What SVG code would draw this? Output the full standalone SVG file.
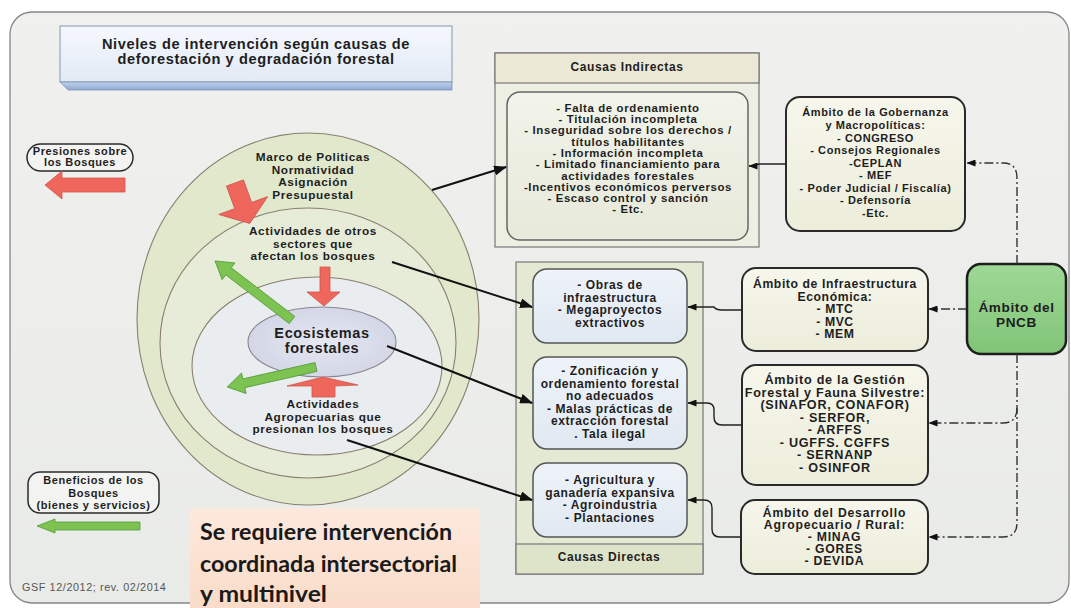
<svg xmlns="http://www.w3.org/2000/svg" width="1071" height="608" viewBox="0 0 1071 608">
<defs>
<style>
.f{font-family:"Liberation Sans",Arial,sans-serif;font-weight:bold;fill:#1e1e1e;text-anchor:middle}
.ttl{font-size:14.6px;letter-spacing:.6px}
.lg{font-size:11px;letter-spacing:.6px}
.hd{font-size:12px;letter-spacing:.6px}
.ci{font-size:11.4px;letter-spacing:.65px}
.el{font-size:11.8px;letter-spacing:.6px}
.eco{font-size:14.5px;letter-spacing:.6px}
.gob{font-size:11px;letter-spacing:.6px}
.inf{font-size:12.2px;letter-spacing:.6px}
.ges{font-size:12.6px;letter-spacing:.75px}
.des{font-size:12.2px;letter-spacing:.8px}
.cd{font-size:12px;letter-spacing:.6px}
.pn{font-size:13.6px;letter-spacing:.6px}
.big{font-family:Lato,"Open Sans","Liberation Sans",sans-serif;font-weight:bold;font-size:23.5px;fill:#1a1a1a}
.gsf{font-family:"Liberation Sans",Arial,sans-serif;font-size:10.8px;letter-spacing:.6px;fill:#555}
.amb{fill:url(#gAmb);stroke:#2a2a2a;stroke-width:2}
.dir{fill:url(#gDir);stroke:#555;stroke-width:1.5}
.ring{stroke:#8a7f70;stroke-width:1.1}
.red{fill:#ef665d;stroke:#cf554d;stroke-width:.8}
.grn{fill:#7cc352;stroke:#54993a;stroke-width:.8}
.con{fill:none;stroke:#111;stroke-width:2}
.thin{fill:none;stroke:#222;stroke-width:1.4}
.dd{fill:none;stroke:#333;stroke-width:1.4;stroke-dasharray:9 3 2 3}
</style>
<linearGradient id="gBg" x1="0" y1="0" x2="0" y2="1"><stop offset="0" stop-color="#f0f1ef"/><stop offset="1" stop-color="#e9ebe8"/></linearGradient>
<linearGradient id="gTitle" x1="0" y1="0" x2="0" y2="1"><stop offset="0" stop-color="#f5f8fd"/><stop offset="1" stop-color="#e2eaf5"/></linearGradient>
<linearGradient id="gBevel" x1="0" y1="0" x2="0" y2="1"><stop offset="0" stop-color="#bfd0ea"/><stop offset="1" stop-color="#8faad6"/></linearGradient>
<linearGradient id="gAmb" x1="0" y1="0" x2="0" y2="1"><stop offset="0" stop-color="#f6f6ec"/><stop offset="1" stop-color="#ecedda"/></linearGradient>
<linearGradient id="gDir" x1="0" y1="0" x2="0" y2="1"><stop offset="0" stop-color="#eef3f9"/><stop offset="1" stop-color="#e0e8f1"/></linearGradient>
<linearGradient id="gInd" x1="0" y1="0" x2="0" y2="1"><stop offset="0" stop-color="#f2f3ea"/><stop offset="1" stop-color="#e7e9da"/></linearGradient>
<linearGradient id="gPeach" x1="0" y1="0" x2="0" y2="1"><stop offset="0" stop-color="#fde9dd"/><stop offset="1" stop-color="#f9dcc9"/></linearGradient>
<linearGradient id="gPncb" x1="0" y1="0" x2="0" y2="1"><stop offset="0" stop-color="#9fd896"/><stop offset="1" stop-color="#80c477"/></linearGradient>
<radialGradient id="gEco" cx=".5" cy=".5" r=".6"><stop offset="0" stop-color="#e6e8f1"/><stop offset="1" stop-color="#cfd3e4"/></radialGradient>
<marker id="ah" markerUnits="userSpaceOnUse" markerWidth="13" markerHeight="10" viewBox="0 0 13 10" refX="12" refY="5" orient="auto"><path d="M0,0 L13,5 L0,10 z" fill="#111"/></marker>
<marker id="ahs" markerUnits="userSpaceOnUse" markerWidth="9" markerHeight="7" viewBox="0 0 9 7" refX="8.5" refY="3.5" orient="auto"><path d="M0,0 L9,3.5 L0,7 z" fill="#111"/></marker>
</defs>

<rect x="10" y="12" width="1059" height="591" rx="22" fill="url(#gBg)" stroke="#858585" stroke-width="1.3"/>

<g id="title">
<rect x="60" y="26" width="392" height="56" fill="url(#gTitle)" stroke="#8796ad" stroke-width="1"/>
<polygon points="60,82 452,82 452,90 68,90" fill="url(#gBevel)" stroke="#7f93b3" stroke-width=".8"/>
<text class="f ttl" x="256" y="49">Niveles de intervención según causas de</text>
<text class="f ttl" x="256" y="64">deforestación y degradación forestal</text>
</g>

<g id="legend-presiones">
<rect x="27" y="144" width="106" height="27" rx="13.5" fill="#f3f4f1" stroke="#2a2a2a" stroke-width="1.5"/>
<text class="f lg" x="80" y="155">Presiones sobre</text>
<text class="f lg" x="80" y="166">los Bosques</text>
<polygon class="red" points="125,178 62,178 62,171 45,185 62,199 62,192 125,192"/>
</g>

<g id="legend-beneficios">
<rect x="28" y="472" width="131" height="41" rx="12" fill="#f3f4f1" stroke="#2a2a2a" stroke-width="1.5"/>
<text class="f lg" x="93.5" y="484">Beneficios de los</text>
<text class="f lg" x="93.5" y="497">Bosques</text>
<text class="f lg" x="93.5" y="509">(bienes y servicios)</text>
<polygon class="grn" points="140,522 55,522 55,519 37,526 55,533 55,530 140,530"/>
</g>

<g id="ring-politicas">
<ellipse class="ring" cx="308" cy="319" rx="171" ry="186" fill="#e1e8cc"/>
<text class="f el" x="313" y="161">Marco de Politicas</text>
<text class="f el" x="313" y="173.5">Normatividad</text>
<text class="f el" x="313" y="186">Asignación</text>
<text class="f el" x="313" y="198.5">Presupuestal</text>
</g>
<g id="ring-otros-sectores">
<ellipse class="ring" cx="308" cy="343" rx="148" ry="135" fill="#e6ecd7"/>
<text class="f el" x="313" y="235">Actividades de otros</text>
<text class="f el" x="313" y="247.5">sectores que</text>
<text class="f el" x="313" y="260">afectan los bosques</text>
</g>
<g id="ring-agropecuarias">
<ellipse class="ring" cx="317" cy="366" rx="125" ry="89" fill="#e9edef"/>
<text class="f el" x="323" y="408">Actividades</text>
<text class="f el" x="323" y="420.5">Agropecuarias que</text>
<text class="f el" x="323" y="433">presionan los bosques</text>
</g>
<g id="ecosistemas">
<ellipse cx="322" cy="342" rx="74" ry="35" fill="url(#gEco)" stroke="#8a8690" stroke-width="1.1"/>
<text class="f eco" x="322" y="338">Ecosistemas</text>
<text class="f eco" x="322" y="353">forestales</text>
</g>

<g id="flow-arrows">
<polygon class="red" transform="translate(235,183) rotate(-20)" points="-9,0 9,0 9,24 26,24 0,43 -26,24 -9,24"/>
<polygon class="red" points="320,267 330,267 330,292 340,292 324,306 307,292 320,292"/>
<polygon class="red" points="312,397 335,397 335,386 358,385 323,377 287,386 312,386"/>
<polygon class="grn" transform="translate(292,320) rotate(217.5)" points="0,-4.5 80,-4.5 80,-10.5 97,0 80,10.5 80,4.5 0,4.5"/>
<polygon class="grn" transform="translate(316,367) rotate(167.3)" points="0,-4.5 74,-4.5 74,-10.5 91,0 74,10.5 74,4.5 0,4.5"/>
</g>

<g id="causas-indirectas">
<rect x="495" y="53" width="264" height="194" fill="#eeefe3" stroke="#777" stroke-width="1.2"/>
<rect x="495" y="53" width="264" height="30" fill="#ebe9d6" stroke="#777" stroke-width="1.2"/>
<text class="f hd" x="627" y="71">Causas Indirectas</text>
<rect x="507" y="92" width="241" height="148" rx="13" fill="url(#gInd)" stroke="#666" stroke-width="1.5"/>
<text class="f ci" x="628" y="111.7">- Falta de ordenamiento</text>
<text class="f ci" x="628" y="123">- Titulación incompleta</text>
<text class="f ci" x="628" y="134.3">- Inseguridad sobre los derechos /</text>
<text class="f ci" x="628" y="145.6">títulos habilitantes</text>
<text class="f ci" x="628" y="156.9">- Información incompleta</text>
<text class="f ci" x="628" y="168.2">- Limitado financiamiento para</text>
<text class="f ci" x="628" y="179.5">actividades forestales</text>
<text class="f ci" x="628" y="190.8">-Incentivos económicos perversos</text>
<text class="f ci" x="628" y="202.1">-  Escaso control y sanción</text>
<text class="f ci" x="628" y="213.4">- Etc.</text>
</g>

<g id="causas-directas">
<rect x="516" y="262" width="187" height="312" fill="#e3e9d3" stroke="#777" stroke-width="1.2"/>
<rect x="516" y="544" width="187" height="30" fill="#dee4c9" stroke="#777" stroke-width="1.2"/>
<text class="f hd" x="609" y="561">Causas Directas</text>
</g>
<g id="obras">
<rect class="dir" x="533" y="269" width="154" height="74" rx="14"/>
<text class="f cd" x="610" y="289">- Obras de</text>
<text class="f cd" x="610" y="301.5">infraestructura</text>
<text class="f cd" x="610" y="314">- Megaproyectos</text>
<text class="f cd" x="610" y="326.5">extractivos</text>
</g>
<g id="zonificacion">
<rect class="dir" x="533" y="357" width="154" height="92" rx="14"/>
<text class="f cd" x="610" y="375">- Zonificación y</text>
<text class="f cd" x="610" y="387.5">ordenamiento forestal</text>
<text class="f cd" x="610" y="400">no adecuados</text>
<text class="f cd" x="610" y="412.5">- Malas prácticas de</text>
<text class="f cd" x="610" y="425">extracción forestal</text>
<text class="f cd" x="610" y="437.5">. Tala ilegal</text>
</g>
<g id="agricultura">
<rect class="dir" x="533" y="463" width="154" height="74" rx="14"/>
<text class="f cd" x="610" y="484">- Agricultura y</text>
<text class="f cd" x="610" y="496.5">ganadería expansiva</text>
<text class="f cd" x="610" y="509">- Agroindustria</text>
<text class="f cd" x="610" y="521.5">- Plantaciones</text>
</g>

<g id="ambito-gobernanza">
<rect class="amb" x="786" y="97" width="179" height="134" rx="14"/>
<text class="f gob" x="875.5" y="116">Ámbito de la Gobernanza</text>
<text class="f gob" x="875.5" y="129">y Macropolíticas:</text>
<text class="f gob" x="875.5" y="141.5">- CONGRESO</text>
<text class="f gob" x="875.5" y="154">- Consejos Regionales</text>
<text class="f gob" x="875.5" y="166.5">-CEPLAN</text>
<text class="f gob" x="875.5" y="179">- MEF</text>
<text class="f gob" x="875.5" y="191.5">- Poder Judicial / Fiscalía)</text>
<text class="f gob" x="875.5" y="204">- Defensoría</text>
<text class="f gob" x="875.5" y="216.5">-Etc.</text>
</g>
<g id="ambito-infraestructura">
<rect class="amb" x="742" y="268" width="186" height="83" rx="14"/>
<text class="f inf" x="835" y="288">Ámbito de Infraestructura</text>
<text class="f inf" x="835" y="300.5">Económica:</text>
<text class="f inf" x="835" y="313">- MTC</text>
<text class="f inf" x="835" y="325.5">- MVC</text>
<text class="f inf" x="835" y="338">- MEM</text>
</g>
<g id="ambito-gestion">
<rect class="amb" x="742" y="365" width="186" height="120" rx="14"/>
<text class="f ges" x="835" y="384">Ámbito de la Gestión</text>
<text class="f ges" x="835" y="396.5">Forestal y Fauna Silvestre:</text>
<text class="f ges" x="835" y="409">(SINAFOR,  CONAFOR)</text>
<text class="f ges" x="835" y="421.5">- SERFOR,</text>
<text class="f ges" x="835" y="434">- ARFFS</text>
<text class="f ges" x="835" y="446.5">- UGFFS.  CGFFS</text>
<text class="f ges" x="835" y="459">- SERNANP</text>
<text class="f ges" x="835" y="471.5">- OSINFOR</text>
</g>
<g id="ambito-desarrollo">
<rect class="amb" x="741" y="500" width="187" height="74" rx="14"/>
<text class="f des" x="834.5" y="517">Ámbito del Desarrollo</text>
<text class="f des" x="834.5" y="529">Agropecuario / Rural:</text>
<text class="f des" x="834.5" y="541">- MINAG</text>
<text class="f des" x="834.5" y="553">- GORES</text>
<text class="f des" x="834.5" y="565">- DEVIDA</text>
</g>
<g id="ambito-pncb">
<rect x="967" y="264" width="99" height="90" rx="14" fill="url(#gPncb)" stroke="#1e1e1e" stroke-width="2.5"/>
<text class="f pn" x="1016.5" y="312">Ámbito del</text>
<text class="f pn" x="1016.5" y="327">PNCB</text>
</g>

<g id="connectors">
<path class="con" d="M432,190 L506,167" marker-end="url(#ah)"/>
<path class="con" d="M392,262 L532,307" marker-end="url(#ah)"/>
<path class="con" d="M387,346 L532,403" marker-end="url(#ah)"/>
<path class="con" d="M347,440 L532,500" marker-end="url(#ah)"/>
<path class="thin" d="M786,164 L760,164 Q756,164 754,166 L749,166" marker-end="url(#ahs)"/>
<path class="thin" d="M742,310 L722,310 Q716,310 714,307 L688,307" marker-end="url(#ahs)"/>
<path class="thin" d="M742,425 L722,425 Q714,425 714,417 L714,410 Q714,403 707,403 L688,403" marker-end="url(#ahs)"/>
<path class="thin" d="M741,537 L720,537 Q712,537 712,529 L712,508 Q712,500 704,500 L688,500" marker-end="url(#ahs)"/>
<path class="dd" d="M1017,264 L1017,178 Q1017,163 1003,163 L967,163" marker-end="url(#ahs)"/>
<path class="dd" d="M967,309 L929,309" marker-end="url(#ahs)"/>
<path class="dd" d="M1017,354 L1017,523 Q1017,537 1003,537 L929,537" marker-end="url(#ahs)"/>
<path class="dd" d="M1017,408 Q1017,423 1003,423 L929,423" marker-end="url(#ahs)"/>
</g>

<g id="note">
<rect x="190" y="508" width="290" height="100" fill="url(#gPeach)"/>
<text class="big" x="200" y="540" textLength="252" lengthAdjust="spacingAndGlyphs">Se requiere intervención</text>
<text class="big" x="200" y="572" textLength="257" lengthAdjust="spacingAndGlyphs">coordinada intersectorial</text>
<text class="big" x="200" y="602" textLength="127" lengthAdjust="spacingAndGlyphs">y multinivel</text>
</g>
<text id="credit" class="gsf" x="22" y="591">GSF 12/2012; rev. 02/2014</text>
</svg>
